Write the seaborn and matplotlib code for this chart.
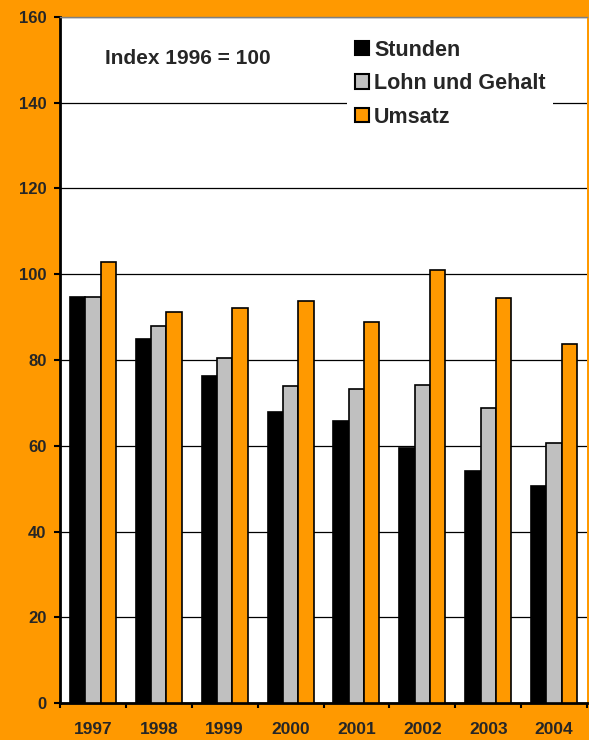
import numpy as np
import pandas as pd
import matplotlib
matplotlib.use("Agg")
import matplotlib.pyplot as plt
from matplotlib.patches import Patch
import seaborn as sns

# Index values, 1996 = 100
years = ["1997", "1998", "1999", "2000", "2001", "2002", "2003", "2004"]
stunden = [94.6, 84.9, 76.3, 67.8, 65.7, 59.4, 54.2, 50.6]
lohn_gehalt = [94.7, 88.0, 80.4, 74.0, 73.2, 74.2, 68.7, 60.7]
umsatz = [102.8, 91.2, 92.2, 93.7, 88.9, 101.0, 94.5, 83.8]

series_names = ["Stunden", "Lohn und Gehalt", "Umsatz"]
series_colors = ["#000000", "#C0C0C0", "#FF9900"]
y_ticks = [0, 20, 40, 60, 80, 100, 120, 140, 160]
note = "Index 1996 = 100"

sns.set_style("white")
plt.rcParams["font.family"] = ["Liberation Sans", "DejaVu Sans"]
plt.rcParams["font.weight"] = "bold"

df = pd.DataFrame({
    "Jahr": years * 3,
    "Index": stunden + lohn_gehalt + umsatz,
    "Reihe": [series_names[0]] * 8 + [series_names[1]] * 8 + [series_names[2]] * 8,
})

W, H = 589, 740
fig = plt.figure(figsize=(W / 100, H / 100), dpi=100, facecolor="#FF9900")
ax = fig.add_axes([60 / W, 1 - 703 / H, (587 - 60) / W, (703 - 17) / H])
ax.set_facecolor("white")

sns.barplot(data=df, x="Jahr", y="Index", hue="Reihe", hue_order=series_names,
            order=years, palette=series_colors, width=0.7, saturation=1,
            edgecolor="black", linewidth=1.2, legend=False, ax=ax, zorder=3)

ax.set_xlim(-0.5, len(years) - 0.5)
ax.set_ylim(0, 160)
ax.set_xlabel("")
ax.set_ylabel("")

# y axis
ax.set_yticks(y_ticks)
ax.set_yticklabels([str(v) for v in y_ticks], fontsize=12, fontweight="bold")
ax.tick_params(axis="y", direction="out", length=4.3, width=1.5, pad=5.5,
               color="black", left=True)
ax.yaxis.grid(True, color="black", linewidth=0.9, zorder=0)
ax.set_axisbelow(True)

# x axis: labels centred, tick marks between categories
ax.set_xticks(range(len(years)))
ax.set_xticklabels(years, fontsize=12.5, fontweight="bold")
ax.tick_params(axis="x", which="major", length=0, pad=14)
ax.set_xticks(np.arange(-0.5, len(years)), minor=True)
ax.tick_params(axis="x", which="minor", direction="out", length=3.8,
               width=1.5, color="black", bottom=True)

for side in ["left", "bottom"]:
    ax.spines[side].set_color("black")
    ax.spines[side].set_linewidth(2)
ax.spines["top"].set_color("#808080")
ax.spines["top"].set_linewidth(1)
ax.spines["right"].set_visible(False)

ax.text((105 - 60) / 527, (703 - 58) / 686, note, transform=ax.transAxes,
        fontsize=15, fontweight="bold", ha="left", va="center")

handles = [Patch(facecolor=c, edgecolor="black", linewidth=1.5) for c in series_colors]
leg = ax.legend(handles, series_names, loc="upper left",
                bbox_to_anchor=((347 - 60) / 527, (703 - 32) / 686),
                prop={"size": 15.5, "weight": "bold"}, frameon=True,
                fancybox=False, framealpha=1, edgecolor="white",
                handlelength=0.66, handleheight=0.66, handletextpad=0.25,
                labelspacing=0.58, borderpad=0.35, borderaxespad=0)
leg.get_frame().set_linewidth(0)
leg.set_zorder(5)

fig.savefig("out.png", dpi=100, facecolor=fig.get_facecolor())
